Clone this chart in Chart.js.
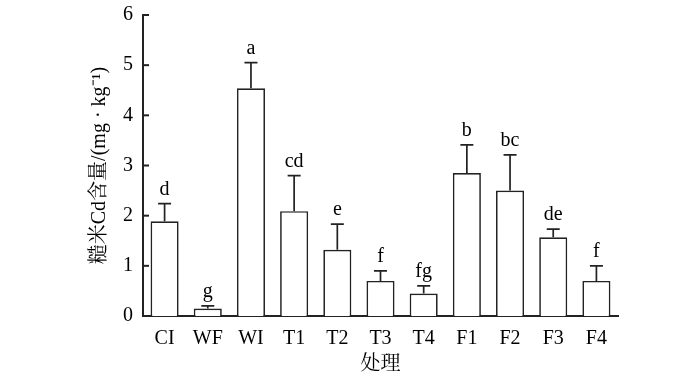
<!DOCTYPE html>
<html>
<head>
<meta charset="utf-8">
<script src="https://cdn.jsdelivr.net/npm/chart.js@4"></script>
<style>
  body { margin: 0; background: #fff; }
  #wrap { width: 700px; height: 378px; }
</style>
</head>
<body>
<div id="wrap"><canvas id="cdChart" width="700" height="378"></canvas></div>
<script>
// Daten
const categories = ['CI', 'WF', 'WI', 'T1', 'T2', 'T3', 'T4', 'F1', 'F2', 'F3', 'F4'];
const means = [1.89, 0.15, 4.54, 2.09, 1.32, 0.70, 0.45, 2.85, 2.50, 1.57, 0.70];
const errors = [0.35, 0.05, 0.51, 0.71, 0.51, 0.20, 0.15, 0.56, 0.71, 0.16, 0.30];
const letters = ['d', 'g', 'a', 'cd', 'e', 'f', 'fg', 'b', 'bc', 'de', 'f'];
const yTicks = [0, 1, 2, 3, 4, 5, 6];

const serif = '"Liberation Serif", "Noto Serif CJK SC", "Noto Sans CJK SC", serif';
const ink = '#222';

// Fehlerbalken, Buchstaben und nach innen zeigende Ticks
const errorBarPlugin = {
  id: 'errorBars',
  afterDatasetsDraw(chart) {
    const { ctx, scales: { x, y } } = chart;
    const meta = chart.getDatasetMeta(0);
    ctx.save();
    ctx.strokeStyle = ink;
    ctx.lineWidth = 1.7;
    ctx.fillStyle = '#000';
    ctx.font = '20px ' + serif;
    ctx.textAlign = 'center';
    ctx.textBaseline = 'alphabetic';
    meta.data.forEach((bar, i) => {
      const yBar = y.getPixelForValue(means[i]);
      const yTop = y.getPixelForValue(means[i] + errors[i]);
      ctx.beginPath();
      ctx.moveTo(bar.x, yBar);
      ctx.lineTo(bar.x, yTop);
      ctx.moveTo(bar.x - 6.5, yTop);
      ctx.lineTo(bar.x + 6.5, yTop);
      ctx.stroke();
      ctx.fillText(letters[i], bar.x, yTop - 9);
    });
    // Ticks der y-Achse nach innen
    ctx.lineWidth = 2;
    y.ticks.forEach(t => {
      const py = y.getPixelForValue(t.value);
      ctx.beginPath();
      ctx.moveTo(x.left, py);
      ctx.lineTo(x.left + 6, py);
      ctx.stroke();
    });
    ctx.restore();
  }
};

const ctx = document.getElementById('cdChart').getContext('2d');
const myChart = new Chart(ctx, {
  type: 'bar',
  data: {
    labels: categories,
    datasets: [{
      data: means,
      backgroundColor: '#fff',
      borderColor: ink,
      borderWidth: 1.7,
      barPercentage: 0.65,
      categoryPercentage: 1.0
    }]
  },
  options: {
    responsive: false,
    animation: false,
    layout: { padding: { left: 0, right: 82, top: 15, bottom: 0 } },
    plugins: { legend: { display: false }, tooltip: { enabled: false } },
    scales: {
      x: {
        grid: { display: false, drawTicks: false },
        border: { display: true, color: ink, width: 2 },
        ticks: { color: '#000', padding: 11, font: { family: serif, size: 20 } },
        title: {
          display: true,
          text: '处理',
          color: '#000',
          font: { family: serif, size: 20 },
          padding: { top: 0, bottom: 1 }
        },
        afterFit(scale) { scale.height = 62; }
      },
      y: {
        min: 0,
        max: 6,
        afterBuildTicks(scale) { scale.ticks = yTicks.map(v => ({ value: v })); },
        grid: { display: false, drawTicks: false },
        border: { display: true, color: ink, width: 2 },
        ticks: { color: '#000', padding: 10, font: { family: serif, size: 20 } },
        title: {
          display: true,
          text: '糙米Cd含量/(mg · kg⁻¹)',
          color: '#000',
          font: { family: serif, size: 20 },
          padding: { top: 88, bottom: 0 }
        },
        afterFit(scale) {
          scale.width = 143;
          scale.paddingTop = 0;
          scale.paddingBottom = 0;
        }
      }
    }
  },
  plugins: [errorBarPlugin]
});
</script>
</body>
</html>
